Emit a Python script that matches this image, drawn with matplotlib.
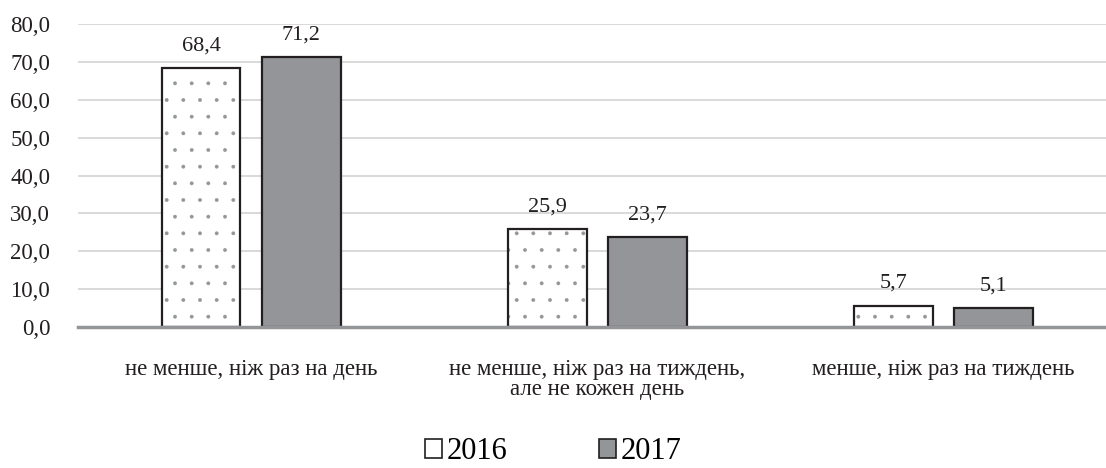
import numpy as np
import matplotlib.pyplot as plt
from matplotlib.patches import Patch

# ---------- data ----------
categories = ["не менше, ніж раз на день",
              "не менше, ніж раз на тиждень,\nале не кожен день",
              "менше, ніж раз на тиждень"]
years = ["2016", "2017"]
v2016 = [68.4, 25.9, 5.7]
v2017 = [71.2, 23.7, 5.1]
yticks = [0, 10, 20, 30, 40, 50, 60, 70, 80]

GRAY = "#939598"
INK = "#231f20"
plt.rcParams["font.family"] = ["Liberation Serif", "DejaVu Serif"]
plt.rcParams["hatch.linewidth"] = 0.3

fig = plt.figure(figsize=(11.06, 4.68), dpi=100)
ax = fig.add_axes([0.0705, 0.301, 0.9295, 0.648])

x = np.arange(len(categories))
w = 0.228
off = 0.1445

# 2016: white with grey dots, black outline
ax.bar(x - off, v2016, w, color="white", edgecolor=GRAY, hatch=".", linewidth=0, zorder=2)
ax.bar(x - off, v2016, w, fill=False, edgecolor=INK, linewidth=1.6, zorder=3)
# 2017: solid grey
ax.bar(x + off, v2017, w, color=GRAY, edgecolor=INK, linewidth=1.6, zorder=3)

for xs, vals in [(x - off, v2016), (x + off, v2017)]:
    for xi, v in zip(xs, vals):
        ax.annotate(f"{v:.1f}".replace(".", ","), (xi, v), xytext=(0, 9), textcoords="offset points",
                    ha="center", va="bottom", fontsize=16, color=INK)

ax.set_ylim(0, 80)
ax.set_xlim(-0.5, 2.47)
ax.set_yticks(yticks)
ax.set_yticklabels([f"{t:.1f}".replace(".", ",") for t in yticks], fontsize=16.5, color=INK)
ax.set_xticks(x)
ax.set_xticklabels(categories, fontsize=16.5, color=INK, linespacing=0.95)
ax.tick_params(axis="x", length=0, pad=23)
ax.tick_params(axis="y", length=0, pad=20)
ax.grid(axis="y", color="#d9d9d9", linewidth=1.4, zorder=0)
ax.set_axisbelow(True)
for s in ["top", "right", "left"]:
    ax.spines[s].set_visible(False)
ax.spines["bottom"].set_color(GRAY)
ax.spines["bottom"].set_linewidth(2.5)
ax.spines["bottom"].set_zorder(4)

handles = [Patch(facecolor="white", edgecolor=INK, linewidth=1.2),
           Patch(facecolor=GRAY, edgecolor=INK, linewidth=1.2)]
fig.legend(handles, years, loc="center", bbox_to_anchor=(0.5, 0.035), ncol=2, frameon=False,
           fontsize=22, handlelength=0.55, handleheight=0.55, handletextpad=0.15, columnspacing=3.0)

fig.savefig("out.png", dpi=100)
